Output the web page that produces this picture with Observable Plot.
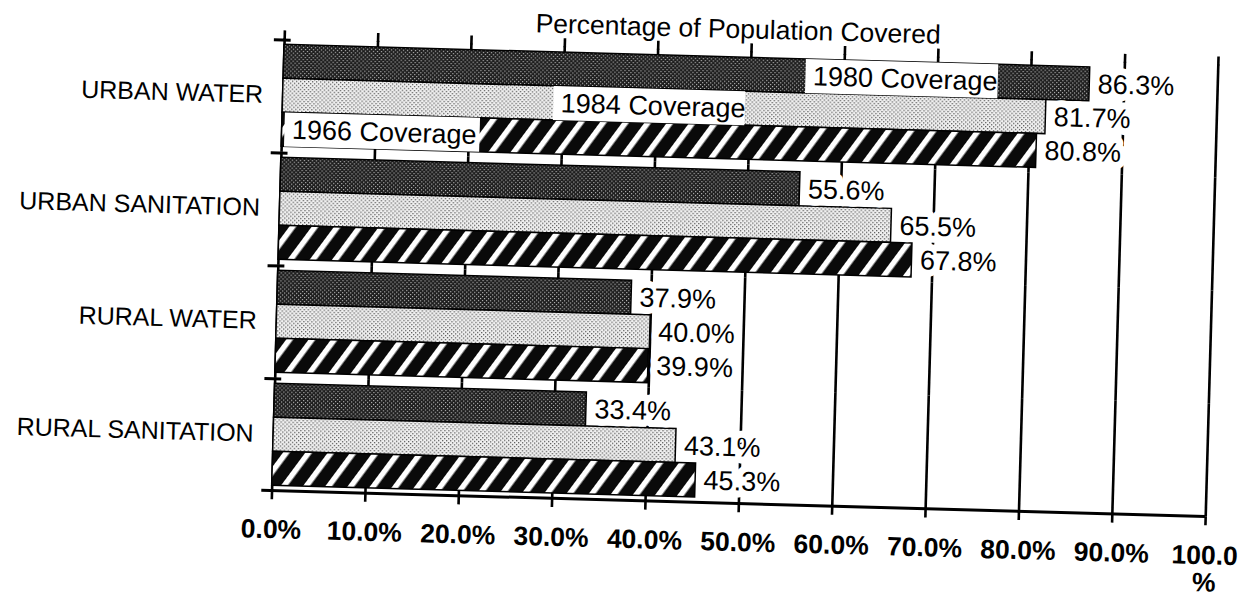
<!DOCTYPE html>
<html><head><meta charset="utf-8">
<script src="https://cdn.jsdelivr.net/npm/d3@7"></script>
<script src="https://cdn.jsdelivr.net/npm/@observablehq/plot@0.6"></script>
<style>
html,body{margin:0;padding:0;background:#fff;overflow:hidden}
#chart svg{display:block;transform:rotate(1.6deg);transform-origin:50% 50%}
</style></head><body><div id="chart"></div>
<script>
// ---- data ----
const categories = ["URBAN WATER", "URBAN SANITATION", "RURAL WATER", "RURAL SANITATION"];
const years = ["1980", "1984", "1986"];
const cov1980 = [86.3, 55.6, 37.9, 33.4];
const cov1984 = [81.7, 65.5, 40.0, 43.1];
const cov1986 = [80.8, 67.8, 39.9, 45.3];
const xTicks = [0, 10, 20, 30, 40, 50, 60, 70, 80, 90, 100];
const legendLabels = ["1980 Coverage", "1984 Coverage", "1966 Coverage"];
const legendFrom = [55.9, 29.0, 0.3];
const legendTo = [76.5, 49.5, 21.2];
const title = "Percentage of Population Covered";

// ---- tables built from the arrays ----
const series = [cov1980, cov1984, cov1986];
const rows = [];
categories.forEach((c, i) => series.forEach((s, j) => rows.push({category: c, year: years[j], value: s[i]})));
const legend = legendLabels.map((label, j) => ({category: categories[0], year: years[j], label, x1: legendFrom[j], x2: legendTo[j]}));
const catRows = categories.map(c => ({category: c}));

// ---- layout ----
const W = 1252, H = 601, mT = 48, mB = 101, mL = 277, mR = 41;
const padOuter = 0.13;
const facetH = (H - mT - mB) / categories.length;
const step = facetH / (years.length + 2 * padOuter);
const edge = step / 2 + padOuter * step;

const fills = {"1980": "url(#p1980)", "1984": "url(#p1984)", "1986": "url(#p1986)"};
const font = "'Liberation Sans', Arial, Helvetica, sans-serif";

const barMarks = years.map(y => Plot.barX(rows.filter(d => d.year === y), {
  fy: "category", y: "year", x: "value", fill: fills[y], stroke: "#000", strokeWidth: 1.5
}));

const chart = Plot.plot({
  width: W, height: H,
  marginTop: mT, marginBottom: mB, marginLeft: mL, marginRight: mR,
  style: {fontFamily: font, fontSize: "26px", color: "#000", background: "#fff", overflow: "visible"},
  x: {domain: [0, 100]},
  y: {domain: years, axis: null, paddingInner: 0, paddingOuter: padOuter},
  fy: {domain: categories, padding: 0},
  marks: [
    Plot.ruleX(xTicks, {stroke: "#000", strokeWidth: 2.6}),
    ...barMarks,
    // legend boxes inside bars
    Plot.barX(legend, {fy: "category", y: "year", x1: "x1", x2: "x2", fill: "#fff"}),
    Plot.text(legend, {fy: "category", y: "year", x: "x1", text: "label", dx: 7, textAnchor: "start", fontSize: 27, fill: "#000"}),
    // value labels
    Plot.text(rows, {fy: "category", y: "year", x: "value", text: d => d.value.toFixed(1) + "%", dx: 8, textAnchor: "start",
      fontSize: 27, fill: "#000", stroke: "#fff", strokeWidth: 14}),
    // category boundary ticks on the left axis
    Plot.ruleY(catRows, {fy: "category", y: () => years[0], dy: -edge, x1: -1.1, x2: 0.7, stroke: "#000", strokeWidth: 3}),
    Plot.ruleY(catRows.slice(-1), {fy: "category", y: () => years[2], dy: edge, x1: -1.1, x2: 100, stroke: "#000", strokeWidth: 3}),
    // title
    Plot.text([title], {fy: () => categories[0], text: d => d, frameAnchor: "top", lineAnchor: "middle", dx: -14, dy: -22, fontSize: 26.5, fill: "#000"}),
    Plot.axisX({anchor: "top", ticks: xTicks, tickSize: 9, tickFormat: () => "", strokeWidth: 2.6, label: null}),
    Plot.axisX({anchor: "bottom", ticks: xTicks, tickSize: 9, tickPadding: 19, strokeWidth: 2.6, label: null,
      tickFormat: d => d === 100 ? "100.0\n%" : d.toFixed(1) + "%", fontSize: 26.5, fontWeight: "bold", lineHeight: 1.03}),
    Plot.axisFy({anchor: "left", tickSize: 0, tickPadding: 20, label: null, fontSize: 25})
  ]
});

// fill patterns
const defs = d3.select(chart).insert("defs", ":first-child");
const p80 = defs.append("pattern").attr("id", "p1980").attr("patternUnits", "userSpaceOnUse").attr("width", 4).attr("height", 4);
p80.append("rect").attr("width", 4).attr("height", 4).attr("fill", "#1c1c1c");
p80.append("rect").attr("x", 0).attr("y", 0).attr("width", 1.2).attr("height", 1.2).attr("fill", "#b8b8b8");
p80.append("rect").attr("x", 2).attr("y", 2).attr("width", 1.2).attr("height", 1.2).attr("fill", "#b8b8b8");
const p84 = defs.append("pattern").attr("id", "p1984").attr("patternUnits", "userSpaceOnUse").attr("width", 4).attr("height", 4);
p84.append("rect").attr("width", 4).attr("height", 4).attr("fill", "#f2f2f2");
p84.append("rect").attr("x", 0).attr("y", 0).attr("width", 1.3).attr("height", 1.3).attr("fill", "#5a5a5a");
p84.append("rect").attr("x", 2).attr("y", 2).attr("width", 1.3).attr("height", 1.3).attr("fill", "#5a5a5a");
const p86 = defs.append("pattern").attr("id", "p1986").attr("patternUnits", "userSpaceOnUse").attr("width", 18).attr("height", 18).attr("patternTransform", "rotate(35)");
p86.append("rect").attr("width", 18).attr("height", 18).attr("fill", "#0a0a0a");
p86.append("rect").attr("x", 0).attr("y", 0).attr("width", 5.5).attr("height", 18).attr("fill", "#fff");

document.getElementById("chart").appendChild(chart);
</script>
</body></html>
